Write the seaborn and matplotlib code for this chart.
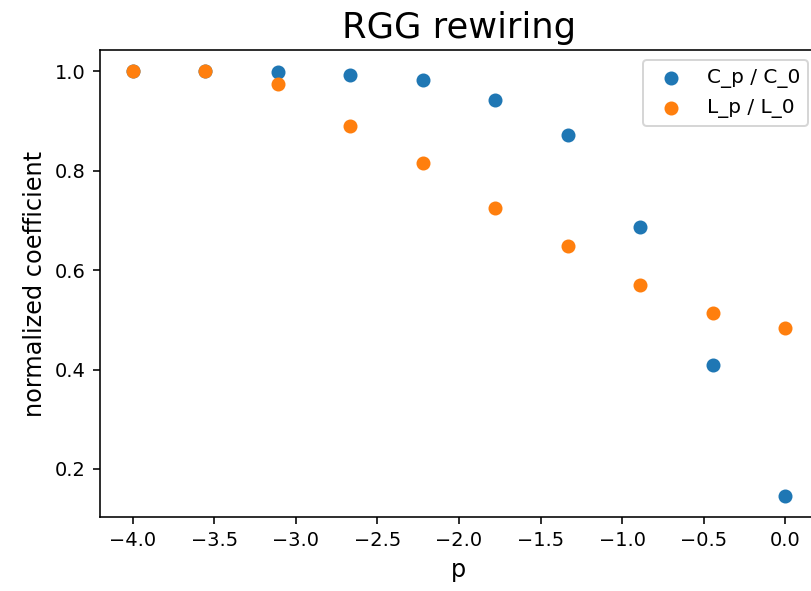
import matplotlib
matplotlib.use("Agg")
import matplotlib.pyplot as plt
import seaborn as sns
import pandas as pd

# x values (log10 p) and normalized coefficients
p_values = [-4.0, -3.556, -3.111, -2.667, -2.222, -1.778, -1.333, -0.889, -0.444, 0.0]
c_ratio = [1.0, 1.0, 0.999, 0.992, 0.982, 0.943, 0.871, 0.686, 0.410, 0.146]
l_ratio = [1.0, 1.0, 0.974, 0.889, 0.815, 0.724, 0.648, 0.570, 0.514, 0.484]

df = pd.DataFrame({"p": p_values, "C": c_ratio, "L": l_ratio})

fig = plt.figure(figsize=(811 / 144, 591 / 144), dpi=144)
ax = fig.add_axes([0.1233, 0.1252, 0.8853, 0.7902])

sns.scatterplot(data=df, x="p", y="C", ax=ax, color="#1f77b4", s=36,
                edgecolor="face", linewidth=1.0, label="C_p / C_0")
sns.scatterplot(data=df, x="p", y="L", ax=ax, color="#ff7f0e", s=36,
                edgecolor="face", linewidth=1.0, label="L_p / L_0")

ax.set_title("RGG rewiring", fontsize=17.6)
ax.set_xlabel("p", fontsize=12)
ax.set_ylabel("normalized coefficient", fontsize=12)
ax.tick_params(labelsize=9.7)
ax.set_xticks([-4.0, -3.5, -3.0, -2.5, -2.0, -1.5, -1.0, -0.5, 0.0])
ax.set_yticks([0.2, 0.4, 0.6, 0.8, 1.0])
ax.legend(loc="upper right", fontsize=10)

fig.savefig("out.png", dpi=144)
